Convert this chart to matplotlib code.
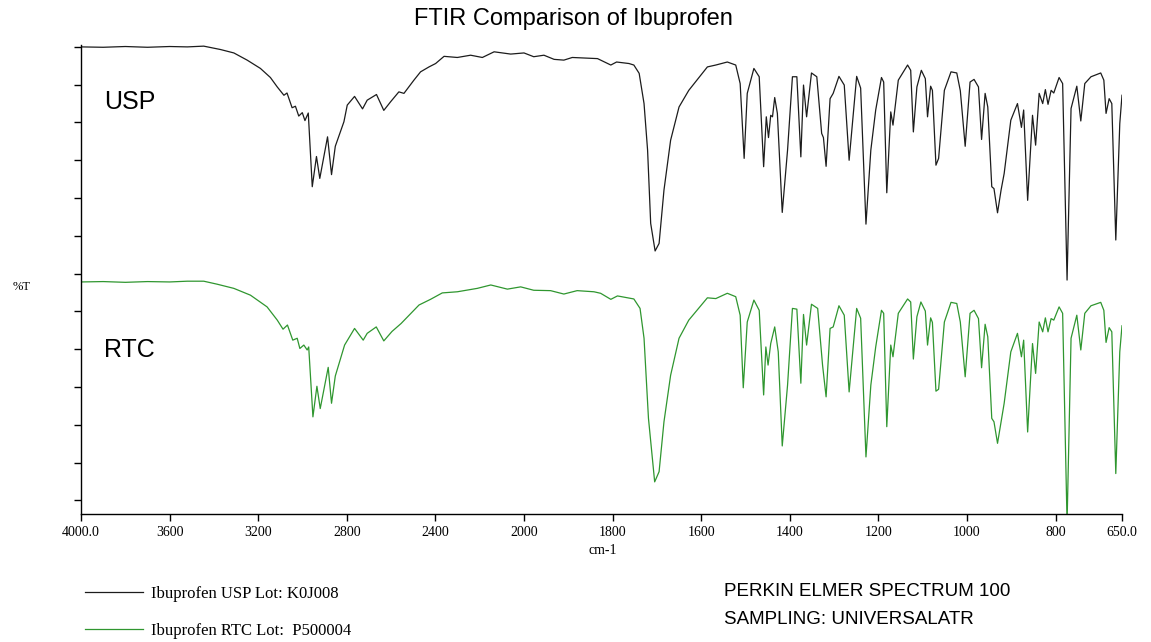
import numpy as np
import matplotlib
matplotlib.use("Agg")
import matplotlib.pyplot as plt

# wavenumber (cm-1) and %T (offset stack) readings for each spectrum
usp_cm = [4000, 3900, 3800, 3700, 3600, 3520, 3446, 3370, 3310, 3250, 3190, 3145, 3114, 3084, 3070,
          3047, 3032, 3017, 3001, 2989, 2974, 2956, 2937, 2922, 2887, 2869, 2852, 2813, 2798, 2765,
          2729, 2708, 2666, 2633, 2602, 2565, 2542, 2497, 2467, 2429, 2399, 2361, 2301, 2241, 2188,
          2135, 2060, 2000, 1978, 1955, 1932, 1910, 1891, 1834, 1804, 1791, 1763, 1752, 1740, 1729,
          1721, 1714, 1704, 1695, 1684, 1669, 1650, 1628, 1601, 1586, 1567, 1541, 1522, 1512, 1503,
          1496, 1481, 1469, 1459, 1453, 1448, 1443, 1439, 1434, 1428, 1417, 1405, 1394, 1384, 1375,
          1369, 1362, 1351, 1339, 1328, 1324, 1318, 1309, 1302, 1289, 1277, 1266, 1249, 1240, 1228,
          1217, 1206, 1193, 1188, 1181, 1172, 1167, 1155, 1134, 1127, 1121, 1113, 1103, 1094, 1089,
          1082, 1078, 1070, 1064, 1051, 1036, 1023, 1015, 1004, 993, 984, 974, 967, 959, 953,
          944, 939, 931, 923, 916, 901, 886, 877, 872, 863, 852, 845, 837, 829, 823,
          817, 810, 804, 792, 784, 774, 765, 752, 743, 734, 720, 698, 691, 686, 679,
          673, 664, 655, 650]
usp_t = [120.0, 119.9, 120.1, 119.9, 120.1, 120.0, 120.2, 119.3, 118.4, 116.5, 114.3, 111.9, 109.4, 107.2, 107.8,
         103.9, 104.3, 101.7, 102.6, 100.5, 102.5, 83.0, 91.0, 85.2, 96.2, 86.2, 93.7, 100.2, 104.6, 106.9,
         103.6, 105.9, 107.4, 103.2, 105.5, 108.1, 107.7, 111.2, 113.4, 114.7, 115.6, 117.5, 117.2, 117.8, 117.2,
         118.7, 118.1, 118.4, 117.4, 117.8, 116.7, 116.5, 117.2, 116.9, 115.2, 116.0, 115.6, 115.2, 113.0, 105.0,
         92.7, 73.3, 66.0, 68.0, 82.1, 95.3, 104.1, 108.5, 112.5, 114.7, 115.2, 116.0, 115.2, 110.3, 90.5,
         107.7, 114.3, 112.1, 88.3, 101.5, 96.0, 101.9, 101.5, 106.6, 102.4, 76.2, 92.7, 112.1, 112.1, 90.9,
         109.9, 101.5, 113.1, 112.1, 97.1, 96.0, 88.4, 106.3, 107.7, 112.2, 109.9, 90.0, 112.2, 109.1, 73.1,
         92.7, 103.3, 111.9, 110.7, 81.4, 102.8, 99.3, 111.2, 115.2, 113.8, 97.5, 109.4, 113.8, 111.6, 101.5,
         109.6, 108.5, 88.7, 90.5, 108.5, 113.4, 113.1, 108.4, 93.7, 110.7, 111.4, 109.4, 95.5, 107.7, 104.1,
         83.0, 82.5, 76.1, 82.1, 86.5, 100.6, 105.0, 98.7, 103.3, 79.4, 101.9, 94.0, 107.7, 105.0, 108.7,
         104.8, 108.5, 107.8, 111.9, 110.3, 58.3, 103.7, 109.6, 100.4, 110.3, 112.1, 113.1, 111.2, 102.4, 106.3,
         105.0, 68.9, 99.7, 107.2]

rtc_cm = [4000, 3900, 3800, 3700, 3600, 3520, 3446, 3385, 3310, 3235, 3160, 3114, 3088, 3068, 3044,
          3024, 3012, 2994, 2979, 2972, 2953, 2935, 2920, 2884, 2869, 2852, 2810, 2765, 2726, 2708,
          2667, 2633, 2596, 2555, 2474, 2422, 2369, 2301, 2211, 2150, 2075, 2015, 1978, 1940, 1910,
          1880, 1842, 1827, 1804, 1789, 1752, 1738, 1729, 1719, 1705, 1695, 1684, 1669, 1650, 1628,
          1601, 1586, 1567, 1541, 1522, 1512, 1505, 1496, 1481, 1469, 1459, 1454, 1449, 1443, 1434,
          1426, 1417, 1405, 1394, 1384, 1375, 1369, 1362, 1351, 1337, 1326, 1318, 1309, 1302, 1289,
          1277, 1266, 1249, 1240, 1228, 1217, 1206, 1193, 1188, 1181, 1172, 1167, 1155, 1134, 1127,
          1121, 1113, 1104, 1094, 1089, 1082, 1078, 1070, 1064, 1051, 1036, 1023, 1015, 1004, 993,
          984, 974, 967, 959, 953, 944, 939, 931, 923, 916, 901, 886, 877, 872, 863,
          852, 845, 837, 829, 823, 817, 810, 804, 792, 784, 774, 765, 752, 743, 734,
          720, 698, 691, 686, 679, 673, 664, 655, 650]
rtc_t = [57.8, 57.9, 57.7, 57.9, 57.8, 58.0, 58.0, 57.2, 56.1, 54.3, 51.2, 47.7, 45.3, 46.4, 42.4,
         42.9, 40.2, 41.1, 39.8, 40.6, 22.1, 30.2, 24.3, 35.2, 25.7, 32.9, 41.1, 45.5, 42.4, 44.2,
         45.9, 42.2, 44.7, 46.8, 51.7, 53.2, 54.9, 55.2, 56.1, 57.0, 55.9, 56.5, 55.6, 55.5, 54.6,
         55.5, 55.2, 54.8, 53.2, 54.1, 53.3, 50.8, 42.9, 21.7, 4.9, 7.6, 20.8, 33.1, 42.9, 47.7,
         51.5, 53.6, 53.4, 54.8, 53.9, 49.0, 29.8, 47.2, 53.0, 50.3, 27.9, 40.6, 35.8, 41.5, 45.9,
         39.3, 14.4, 30.5, 50.8, 50.6, 31.0, 49.2, 41.1, 51.9, 50.8, 35.8, 27.4, 45.5, 45.9, 51.5,
         49.0, 28.7, 50.8, 48.2, 11.5, 30.5, 40.6, 50.3, 49.5, 19.5, 41.1, 38.0, 49.5, 53.3, 52.5,
         37.4, 48.6, 52.5, 50.1, 41.1, 48.3, 47.1, 28.9, 29.4, 47.2, 52.4, 52.1, 47.2, 32.7, 49.5,
         50.3, 48.1, 35.1, 46.6, 43.3, 21.7, 20.8, 15.1, 20.8, 25.7, 39.3, 44.2, 38.0, 42.4, 18.1,
         41.5, 33.6, 47.2, 44.6, 48.3, 44.6, 48.1, 47.7, 51.2, 49.5, -6.0, 42.9, 49.0, 39.8, 49.5,
         51.5, 52.4, 50.3, 41.8, 45.7, 44.6, 7.1, 39.3, 46.2]

x_ticks = [4000, 3600, 3200, 2800, 2400, 2000, 1800, 1600, 1400, 1200, 1000, 800, 650]
x_tick_labels = ['4000.0', '3600', '3200', '2800', '2400', '2000', '1800', '1600',
                 '1400', '1200', '1000', '800', '650.0']
y_ticks = list(range(0, 121, 10))

usp_label = 'Ibuprofen USP Lot: K0J008'
rtc_label = 'Ibuprofen RTC Lot:  P500004'


# the instrument squeezes 4000-2000 to half the width of 2000-650
def fwd(x):
    x = np.asarray(x, dtype=float)
    return np.where(x > 2000, 2000 + (x - 2000) / 2.0, x)


def inv(x):
    x = np.asarray(x, dtype=float)
    return np.where(x > 2000, 2000 + (x - 2000) * 2.0, x)


serif = 'Liberation Serif'
sans = 'Liberation Sans'

fig = plt.figure(figsize=(11.51, 6.42), dpi=100)
ax = fig.add_axes([0.0704, 0.1994, 0.9044, 0.7305])

l1, = ax.plot(usp_cm, usp_t, color='#1c1c1c', lw=0.9)
l2, = ax.plot(rtc_cm, rtc_t, color='#2f962f', lw=0.9)

ax.set_xscale('function', functions=(fwd, inv))
ax.set_xlim(4000, 650)
ax.set_ylim(-3.6, 120.5)

ax.set_xticks(x_ticks)
ax.set_xticklabels(x_tick_labels, family=serif, fontsize=10)
ax.xaxis.set_minor_locator(plt.NullLocator())
ax.set_yticks(y_ticks)
ax.tick_params(axis='y', labelleft=False, length=5, width=1, direction='out')
ax.tick_params(axis='x', length=5, width=1, direction='out', pad=4)

for side in ['top', 'right']:
    ax.spines[side].set_visible(False)
for side in ['left', 'bottom']:
    ax.spines[side].set_linewidth(1.0)

ax.text(0.022, 0.878, 'USP', transform=ax.transAxes, family=sans, fontsize=18, va='center')
ax.text(0.022, 0.350, 'RTC', transform=ax.transAxes, family=sans, fontsize=18, va='center')

fig.text(0.4978, 0.971, 'FTIR Comparison of Ibuprofen', ha='center', va='center',
         family=sans, fontsize=17)
fig.text(0.524, 0.142, 'cm-1', ha='center', va='center', family=serif, fontsize=10)
fig.text(0.019, 0.553, '%T', ha='center', va='center', family=serif, fontsize=9)

fig.legend([l1, l2], [usp_label, rtc_label], loc='upper left', bbox_to_anchor=(0.0736, 0.088),
           frameon=False, prop={'family': serif, 'size': 12}, handlelength=3.5,
           handletextpad=0.45, labelspacing=1.3, borderpad=0, borderaxespad=0)

fig.text(0.629, 0.0794, 'PERKIN ELMER SPECTRUM 100', va='center', family=sans, fontsize=13.5)
fig.text(0.629, 0.0358, 'SAMPLING: UNIVERSALATR', va='center', family=sans, fontsize=13.5)

fig.savefig('out.png', dpi=100)
